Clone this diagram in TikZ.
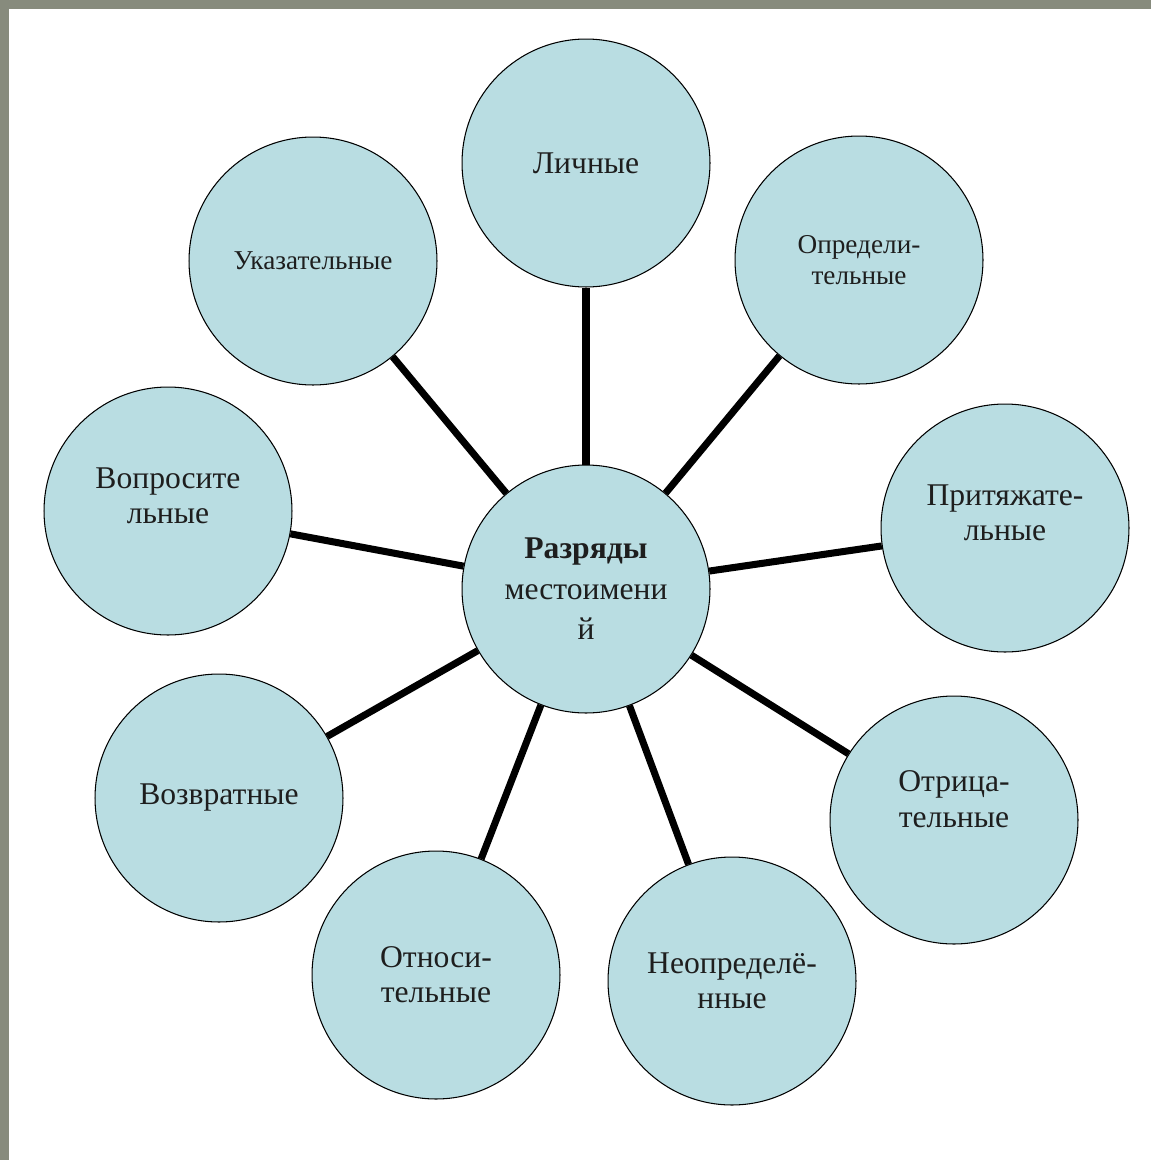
\documentclass[tikz,border=0pt]{standalone}
\usepackage{fontspec}
\setmainfont{Liberation Serif}
\usepackage{tikz}
\definecolor{ringfill}{HTML}{B9DDE2}
\definecolor{framegray}{HTML}{878B7D}
\definecolor{ringtext}{HTML}{1E1E1E}

\begin{document}
\begin{tikzpicture}[
  x=0.02cm, y=-0.02cm,
  ring/.style={draw, circle, line width=0.6pt, fill=ringfill, minimum size=4.96cm,
               inner sep=1pt, align=center, text=ringtext,
               font=\fontsize{18}{20}\selectfont},
  smallring/.style={ring, font=\fontsize{15.5}{17.5}\selectfont},
  hub/.style={ring, font=\fontsize{18}{23}\selectfont},
  raised/.style={text depth=#1},
  spoke/.style={line width=4pt},
]
% Frame: grey strip on top and left
\fill[framegray] (0,0) rectangle (1151,1160);
\fill[white] (9,9) rectangle (1151,1160);
\useasboundingbox (0,0) rectangle (1151,1160);

% Centre
\node[hub] (hub) at (586,589)
  {\textbf{Разряды}\\местоимени\\й};

% Ring of categories, clockwise from the top
\node[ring] (lich) at (586,163) {Личные};
\node[smallring] (opred) at (859,260) {Определи-\\тельные};
\node[ring, raised=0.6cm] (prityazh) at (1005,528) {Притяжате-\\льные};
\node[ring, raised=0.84cm] (otric) at (954,820) {Отрица-\\тельные};
\node[ring] (neopr) at (732,981) {Неопределё-\\нные};
\node[ring] (otnos) at (436,975) {Относи-\\тельные};
\node[ring] (vozvr) at (219,798) {Возвратные};
\node[ring, raised=0.6cm] (vopros) at (168,511) {Вопросите\\льные};
\node[smallring] (ukaz) at (313,261) {Указательные};

% Spokes: centre -> each category
\foreach \n in {lich,opred,prityazh,otric,neopr,otnos,vozvr,vopros,ukaz}
  \draw[spoke] (hub) -- (\n);
\end{tikzpicture}
\end{document}
